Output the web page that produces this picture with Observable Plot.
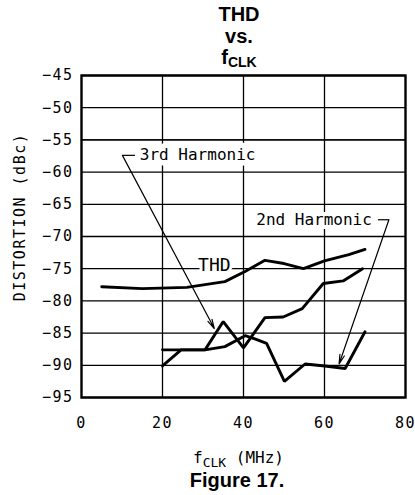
<!DOCTYPE html>
<html>
<head>
<meta charset="utf-8">
<script src="https://cdn.jsdelivr.net/npm/d3@7"></script>
<script src="https://cdn.jsdelivr.net/npm/@observablehq/plot@0.6"></script>
<style>
  body { margin: 0; background: white; }
  #wrap { position: relative; width: 415px; height: 495px; background: white; overflow: hidden; }
  #wrap svg { position: absolute; left: 0; top: 0; }
  .title { position: absolute; left: 139px; width: 200px; text-align: center;
           font-family: "Liberation Sans", Arial, sans-serif; font-weight: bold; font-size: 20px;
           line-height: 21.5px; top: 4px; color: black; }
  .title .sub { font-size: 14px; position: relative; top: 3px; }
  .xlabel { position: absolute; left: 193px; top: 449.5px; font-family: "DejaVu Sans Mono", monospace;
            font-size: 16px; line-height: 16px; white-space: pre; color: black; }
  .xlabel .sub { font-size: 13px; position: relative; top: 4px; line-height: 13px; }
  .caption { position: absolute; left: 137px; width: 200px; text-align: center; top: 471px;
             font-family: "Liberation Sans", Arial, sans-serif; font-weight: bold; font-size: 20px;
             line-height: 18px; color: black; }
</style>
</head>
<body>
<div id="wrap"></div>
<script>
// ---- data ----
const xTicks = [0, 20, 40, 60, 80];
const xGrid = [20, 40, 60];
const yTicks = [-95, -90, -85, -80, -75, -70, -65, -60, -55, -50, -45];

const thdFreq = [5, 15, 26, 35.4, 40.5, 45.3, 50, 54.8, 60, 66, 70];
const thdDb   = [-77.8, -78.1, -77.9, -77.0, -75.4, -73.7, -74.2, -75.0, -73.8, -72.8, -72.0];

const h3Freq = [20, 24.6, 30.5, 35, 40, 45.3, 49.8, 54.5, 59.7, 64.6, 69.4];
const h3Db   = [-90.1, -87.6, -87.6, -83.2, -87.3, -82.6, -82.5, -81.2, -77.3, -76.9, -75.0];

const h2Freq = [20, 30.5, 35.4, 40.4, 42.8, 45.7, 50.1, 55.2, 60.1, 65.1, 70];
const h2Db   = [-87.6, -87.6, -87.1, -85.4, -85.9, -86.6, -92.5, -89.8, -90.1, -90.5, -84.8];

// annotations (data coordinates)
const annLabels = ["3rd Harmonic", "2nd Harmonic"];
const annTextX  = [14.4, 71.7];
const annTextY  = [-57.4, -67.4];
const annHookX  = [13.2, 73.2];
const annTailX  = [10.1, 75.9];
const annTailY  = [-57.4, -67.4];
const annTipX   = [32.8, 63.6];
const annTipY   = [-84.3, -89.8];
const thdLabel = "THD";
const thdLabelX = 32.8;
const thdLabelY = -74.5;

// ---- build tables ----
const series = [
  {name: "THD", f: thdFreq, v: thdDb},
  {name: "3rd", f: h3Freq, v: h3Db},
  {name: "2nd", f: h2Freq, v: h2Db}
];
const lineData = series.flatMap(s => s.f.map((f, i) => ({series: s.name, f, v: s.v[i]})));
const ann = annLabels.map((label, i) => ({
  label, tx: annTextX[i], ty: annTextY[i], hx: annHookX[i],
  x1: annTailX[i], y1: annTailY[i], x2: annTipX[i], y2: annTipY[i]
}));

const chart = Plot.plot({
  width: 415,
  height: 470,
  marginLeft: 81,
  marginRight: 10,
  marginTop: 75,
  marginBottom: 73,
  x: {domain: [0, 80]},
  y: {domain: [-95, -45]},
  style: {fontFamily: "'DejaVu Sans Mono', monospace", fontSize: "15px", color: "black", background: "white"},
  marks: [
    Plot.gridY({ticks: yTicks, stroke: "black", strokeOpacity: 1, strokeWidth: 1.3}),
    Plot.gridX({ticks: xGrid, stroke: "black", strokeOpacity: 1, strokeWidth: 1.3}),
    Plot.text([ann[0]], {x: "tx", y: "ty", text: "label", textAnchor: "start", fontSize: 16, fill: "black", stroke: "white", strokeWidth: 11}),
    Plot.text([ann[1]], {x: "tx", y: "ty", text: "label", textAnchor: "end", fontSize: 16, fill: "black", stroke: "white", strokeWidth: 8}),
    Plot.text([thdLabel], {x: () => thdLabelX, y: () => thdLabelY, text: d => d, fontSize: 18, fill: "black", stroke: "white", strokeWidth: 6}),
    Plot.gridY({ticks: [-55], stroke: "black", strokeOpacity: 1, strokeWidth: 1.3}),
    Plot.frame({stroke: "black", strokeWidth: 2.4}),
    Plot.axisY({ticks: yTicks, tickSize: 0, tickPadding: 8, label: null, fontSize: 15}),
    Plot.axisX({ticks: xTicks, tickSize: 0, tickPadding: 20, label: null, fontSize: 15}),
    Plot.text(["DISTORTION (dBc)"], {frameAnchor: "left", textAnchor: "middle", rotate: -90, dx: -61, dy: -19.5, fontSize: 15, fill: "black"}),
    Plot.link(ann, {x1: "x1", y1: "y1", x2: "hx", y2: "y1", stroke: "black", strokeWidth: 1.2}),
    Plot.arrow(ann, {x1: "x1", y1: "y1", x2: "x2", y2: "y2", stroke: "black", strokeWidth: 1.2, headLength: 12, headAngle: 28}),
    Plot.line(lineData, {x: "f", y: "v", z: "series", stroke: "black", strokeWidth: 2.9, strokeLinejoin: "miter"})
  ]
});

const wrap = document.getElementById("wrap");
wrap.appendChild(chart);

// letter spacing for the stroke-font look
const svg = d3.select(chart);
svg.selectAll("g[aria-label='y-axis tick label'] text, g[aria-label='x-axis tick label'] text").style("letter-spacing", "1.5px");
svg.selectAll("text").filter(function() { return this.textContent === "DISTORTION (dBc)"; }).style("letter-spacing", "1.5px");

// titles and captions (HTML text)
const title = document.createElement("div");
title.className = "title";
title.innerHTML = "THD<br>vs.<br>f<span class='sub'>CLK</span>";
wrap.appendChild(title);

const xlabel = document.createElement("div");
xlabel.className = "xlabel";
xlabel.innerHTML = "f<span class='sub'>CLK</span> (MHz)";
wrap.appendChild(xlabel);

const caption = document.createElement("div");
caption.className = "caption";
caption.textContent = "Figure 17.";
wrap.appendChild(caption);
</script>
</body>
</html>
